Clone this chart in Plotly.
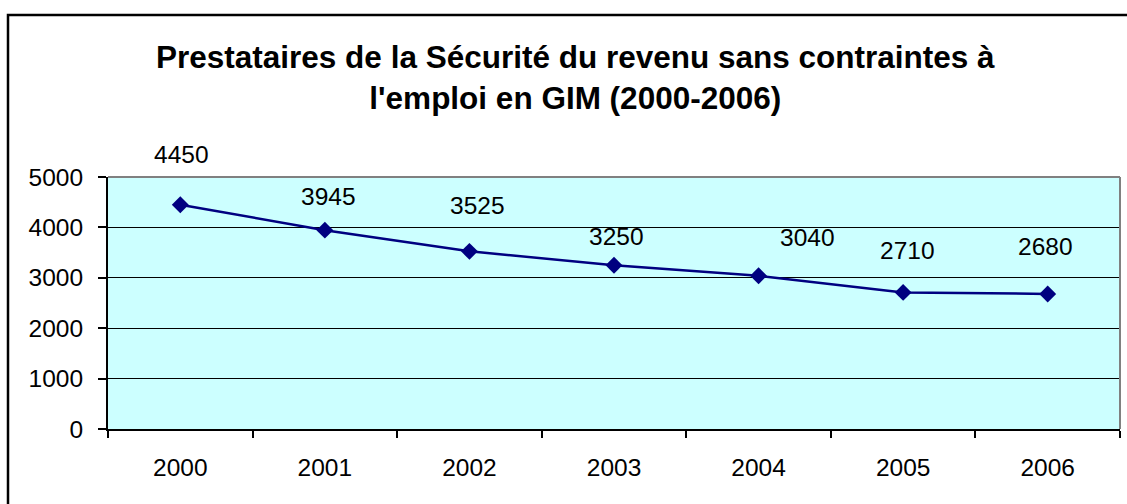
import plotly.graph_objects as go

# Data
years = ["2000", "2001", "2002", "2003", "2004", "2005", "2006"]
beneficiaries = [4450, 3945, 3525, 3250, 3040, 2710, 2680]
y_ticks = [0, 1000, 2000, 3000, 4000, 5000]

# Label placement (style, pixels)
label_dx = [1, 4, 8, 2, 49, 4, -2]
label_dy = [50, 34, 46, 29, 38, 42, 47]

NAVY = "#000080"
FONT = "Liberation Sans, Arial, sans-serif"
FS = 24.5

fig = go.Figure()
fig.add_trace(go.Scatter(
    x=years, y=beneficiaries, mode="lines+markers",
    line=dict(color=NAVY, width=2.5),
    marker=dict(symbol="diamond", size=13, color=NAVY),
    hoverinfo="x+y", showlegend=False,
))

for i, (v, dx, dy) in enumerate(zip(beneficiaries, label_dx, label_dy)):
    fig.add_annotation(x=i, y=v, xref="x", yref="y", text=str(v), showarrow=False,
                       xshift=dx, yshift=dy, xanchor="center", yanchor="middle",
                       font=dict(family=FONT, size=FS, color="black"))

fig.add_annotation(
    xref="paper", yref="paper", x=(575 - 108) / 1012, y=(429 - 77) / 252,
    text="<b>Prestataires de la Sécurité du revenu sans contraintes à<br>l'emploi en GIM (2000-2006)</b>",
    showarrow=False, align="center", xanchor="center", yanchor="middle",
    font=dict(family=FONT, size=31.5, color="black"),
)

# outer border
fig.add_shape(type="rect", xref="paper", yref="paper",
              x0=(8 - 108) / 1012, x1=1.2, y0=-0.6, y1=(429 - 15) / 252,
              line=dict(color="black", width=2.5), fillcolor="rgba(0,0,0,0)", layer="above")
# plot area top/right border
fig.add_shape(type="line", xref="paper", yref="paper", x0=0, x1=1, y0=1, y1=1,
              line=dict(color="#808080", width=2))
fig.add_shape(type="line", xref="paper", yref="paper", x0=1, x1=1, y0=0, y1=1,
              line=dict(color="#808080", width=2))

fig.update_layout(
    width=1127, height=504,
    margin=dict(l=108, r=7, t=177, b=75),
    paper_bgcolor="white", plot_bgcolor="#CCFFFF",
    font=dict(family=FONT, size=FS, color="black"),
)
fig.update_xaxes(
    type="category", range=[-0.5, 6.5], tickson="boundaries",
    ticks="outside", ticklen=7, tickcolor="black", tickwidth=1.5,
    showline=True, linecolor="black", linewidth=2,
    showgrid=False, tickfont=dict(family=FONT, size=FS), ticklabelstandoff=16,
)
fig.update_yaxes(
    range=[0, 5000], tickvals=y_ticks, ticks="outside", ticklen=8,
    tickcolor="black", tickwidth=1.5, showline=True, linecolor="black", linewidth=2,
    showgrid=True, gridcolor="black", gridwidth=1, zeroline=False,
    tickfont=dict(family=FONT, size=FS), ticklabelstandoff=10,
)

fig.write_html("out.html", config={"displayModeBar": False},
               post_script="document.body.style.margin='0px';document.body.style.overflow='hidden';")
